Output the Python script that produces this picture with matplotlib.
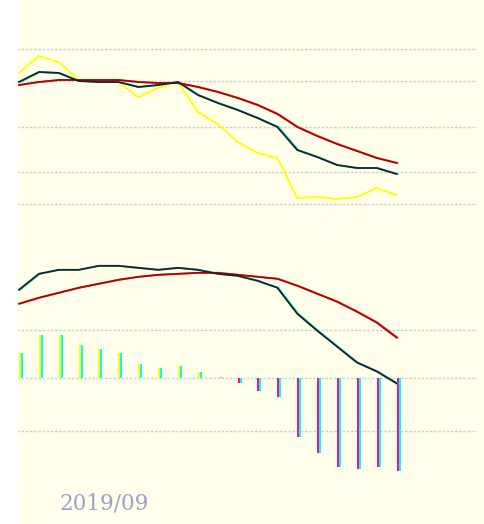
import numpy as np
import matplotlib as mpl
mpl.use('Agg')
import matplotlib.pyplot as plt
from matplotlib.transforms import offset_copy
from matplotlib.patches import Rectangle
from matplotlib.lines import Line2D

# monthly points, upper panel (height above panel bottom)
months = np.arange(20)
price = [153, 170, 164, 146, 144, 144, 129, 138, 144, 114,
         102, 84, 73, 68, 28, 29, 27, 29, 38, 31]
ma_fast = [144, 154, 153, 145, 144, 144, 139, 141, 144, 131,
           123, 116, 108, 99, 76, 69, 61, 58, 58, 52]
ma_slow = [141, 144, 146, 146, 146, 146, 144, 143, 143, 139,
           134, 128, 121, 112, 99, 90, 82, 75, 68, 63]
top_grid = [177, 145, 99, 54, 22]

# lower panel (MACD like)
dif = [89, 105, 109, 109, 113, 113, 111, 109, 111, 109,
       105, 103, 98, 91, 65, 48, 32, 16, 7, -5]
dea = [75, 81, 86, 91, 95, 99, 102, 104, 105, 106,
       106, 104, 102, 100, 93, 85, 77, 67, 56, 41]
hist = [26, 44, 44, 34, 30, 26, 14, 10, 12, 6,
        1, -5, -13, -19, -59, -75, -89, -91, -89, -93]
bot_grid = [49, 0, -53]

cream = '#FFFFEB'
W, H = 484, 524
fig = plt.figure(figsize=(W / 100, H / 100), dpi=100)
fig.patch.set_facecolor('white')
fig.patches.append(Rectangle((18 / W, 0), 1 - 18 / W, 1, transform=fig.transFigure,
                             facecolor=cream, edgecolor='none', zorder=-5))

ax1 = fig.add_axes([18 / W, (H - 226) / H, (W - 18) / W, 226 / H])
ax2 = fig.add_axes([18 / W, (H - 483) / H, (W - 18) / W, 255 / H])

xlim = (-0.05, 23.4)
gx_end = 23.0

def grid(ax, levels):
    ax.hlines(levels, xlim[0], gx_end, colors='#EFB0B8', linestyles=(0, (1, 2)), lw=1, zorder=1)
    ax.hlines(levels, xlim[0], gx_end, colors='#B8ECEC', linestyles=(1, (1, 2)), lw=1, zorder=1)

def fringe_line(ax, y, color, shadow):
    sh = offset_copy(ax.transData, fig=fig, x=1, y=0, units='dots')
    ax.plot(months, y, color=shadow, lw=1.3, transform=sh, zorder=3)
    ax.plot(months, y, color=color, lw=1.3, zorder=4)

for ax in (ax1, ax2):
    ax.set_facecolor(cream)
    ax.set_xlim(*xlim)
    ax.set_xticks([])
    ax.set_yticks([])
    for s in ax.spines.values():
        s.set_visible(False)

# upper panel
ax1.set_ylim(0, 226)
grid(ax1, top_grid)
ax1.plot(months, price, color='#FFFF00', lw=1.3, zorder=2)
fringe_line(ax1, ma_slow, '#B00000', '#E06060')
fringe_line(ax1, ma_fast, '#202020', '#00E8E8')

# lower panel
ax2.set_ylim(-105, 151)
grid(ax2, bot_grid)
hist = np.array(hist)
pos_col = ['#FFFF00' if h >= 0 else '#FF1080' for h in hist]
ax2.bar(months, hist, width=0.1, color=pos_col, align='edge', zorder=2)
ax2.bar(months + 0.1, hist, width=0.1, color='#00FFFF', align='edge', zorder=2)
fringe_line(ax2, dea, '#B00000', '#E06060')
fringe_line(ax2, dif, '#202020', '#00E8E8')

# thin white separators
for yy in (226.5, 483.5):
    fig.add_artist(Line2D([18 / W, 473 / W], [(H - yy) / H] * 2, color='white', lw=1,
                          transform=fig.transFigure))

fig.text(60 / W, (H - 504) / H, '2019/09', color='#A0A0D0', fontsize=15.5,
         family='DejaVu Serif', va='center', ha='left')

fig.savefig('out.png', dpi=100, facecolor=fig.get_facecolor())
